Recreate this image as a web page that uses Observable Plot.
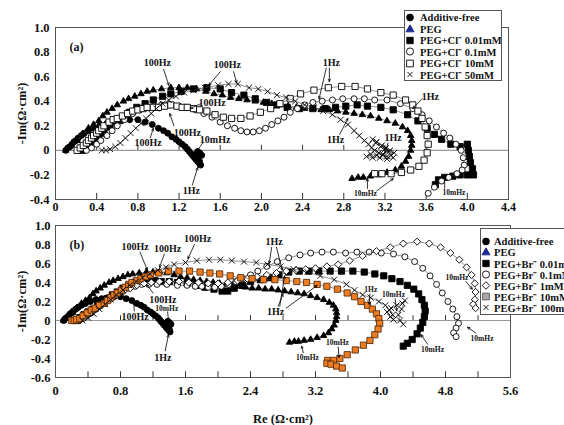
<!DOCTYPE html>
<html><head><meta charset="utf-8">
<script src="https://cdn.jsdelivr.net/npm/d3@7"></script>
<script src="https://cdn.jsdelivr.net/npm/@observablehq/plot@0.6"></script>
<style>
html,body{margin:0;padding:0;background:#fff;overflow:hidden;}
#wrap{position:relative;width:564px;height:425px;overflow:hidden;font-family:'Liberation Serif','Times New Roman',serif;font-weight:bold;color:#111;}
#pa{position:absolute;left:0;top:0;}
#pb{position:absolute;left:0;top:214px;}
.legend{position:absolute;background:#fff;border:1px solid #555;font-size:10.5px;white-space:nowrap;box-sizing:border-box;overflow:hidden;}
.row{display:flex;align-items:center;}
.row svg{flex:none;}
</style>
</head><body>
<div id="wrap"><div id="pa"></div><div id="pb"></div><div id="la" class="legend"></div><div id="lb" class="legend"></div></div>
<script>
// ---------- shared series (Re, -Im) ----------
const additiveFree = [[0.10,0.00],[0.12,0.02],[0.14,0.03],[0.16,0.05],[0.18,0.07],[0.20,0.08],[0.22,0.10],[0.25,0.12],[0.28,0.14],[0.32,0.16],[0.37,0.18],[0.43,0.20],[0.50,0.22],[0.57,0.23],[0.64,0.24],[0.72,0.25],[0.80,0.25],[0.87,0.23],[0.94,0.21],[1.00,0.18],[1.05,0.16],[1.09,0.14],[1.13,0.11],[1.17,0.09],[1.20,0.07],[1.23,0.05],[1.26,0.03],[1.28,0.01],[1.30,-0.01],[1.32,-0.03],[1.34,-0.05],[1.36,-0.07],[1.38,-0.09],[1.40,-0.11],[1.41,-0.12],[1.40,-0.09],[1.38,-0.06],[1.37,-0.03],[1.38,-0.01],[1.40,-0.02],[1.42,-0.04]];
const peg = [[0.10,0.00],[0.15,0.04],[0.21,0.08],[0.26,0.13],[0.32,0.18],[0.37,0.21],[0.42,0.24],[0.46,0.28],[0.50,0.31],[0.55,0.34],[0.60,0.37],[0.66,0.40],[0.71,0.42],[0.77,0.44],[0.83,0.46],[0.89,0.48],[0.95,0.49],[1.03,0.50],[1.12,0.51],[1.20,0.51],[1.28,0.51],[1.37,0.50],[1.46,0.48],[1.54,0.46],[1.62,0.45],[1.70,0.43],[1.78,0.42],[1.86,0.41],[1.94,0.40],[2.02,0.39],[2.10,0.38],[2.18,0.37],[2.26,0.36],[2.34,0.35],[2.42,0.34],[2.50,0.34],[2.58,0.33],[2.66,0.33],[2.74,0.32],[2.82,0.31],[2.90,0.30],[2.98,0.29],[3.06,0.28],[3.14,0.26],[3.22,0.24],[3.30,0.22],[3.37,0.19],[3.42,0.16],[3.45,0.12],[3.46,0.08],[3.46,0.04],[3.45,0.00],[3.43,-0.05],[3.40,-0.09],[3.36,-0.13],[3.30,-0.16],[3.22,-0.18],[3.14,-0.20],[3.06,-0.21],[2.99,-0.22],[2.94,-0.22],[2.88,-0.23]];

// ---------- panel (a): Cl- series ----------
const cl001 = [[0.26,0.00],[0.30,0.03],[0.34,0.06],[0.37,0.08],[0.42,0.11],[0.47,0.14],[0.53,0.19],[0.60,0.24],[0.66,0.27],[0.72,0.31],[0.79,0.35],[0.87,0.38],[0.95,0.41],[1.04,0.44],[1.12,0.46],[1.22,0.48],[1.34,0.50],[1.47,0.51],[1.60,0.50],[1.71,0.47],[1.83,0.45],[1.94,0.42],[2.05,0.39],[2.15,0.37],[2.25,0.35],[2.37,0.34],[2.50,0.34],[2.62,0.34],[2.72,0.35],[2.82,0.36],[2.93,0.37],[3.03,0.36],[3.16,0.35],[3.28,0.33],[3.42,0.29],[3.52,0.24],[3.61,0.18],[3.68,0.13],[3.75,0.09],[3.84,0.05],[3.93,0.03],[4.00,0.05],[4.01,0.00],[4.02,-0.05],[4.03,-0.10],[4.05,-0.15],[4.06,-0.20],[4.00,-0.20],[3.93,-0.20],[3.86,-0.21],[3.78,-0.22],[3.72,-0.24],[3.69,-0.28]];
const cl01 = [[0.30,0.00],[0.35,0.02],[0.40,0.05],[0.44,0.08],[0.50,0.12],[0.55,0.16],[0.60,0.20],[0.67,0.25],[0.75,0.30],[0.82,0.33],[0.89,0.35],[0.96,0.36],[1.03,0.37],[1.11,0.37],[1.20,0.36],[1.28,0.35],[1.36,0.33],[1.44,0.30],[1.52,0.27],[1.60,0.23],[1.67,0.20],[1.74,0.18],[1.80,0.16],[1.86,0.15],[1.92,0.15],[1.98,0.16],[2.04,0.18],[2.10,0.21],[2.16,0.24],[2.22,0.27],[2.28,0.31],[2.35,0.34],[2.42,0.37],[2.50,0.39],[2.59,0.40],[2.69,0.41],[2.79,0.42],[2.90,0.42],[3.00,0.42],[3.10,0.41],[3.22,0.41],[3.35,0.38],[3.47,0.34],[3.56,0.29],[3.63,0.24],[3.70,0.19],[3.77,0.14],[3.83,0.10],[3.89,0.05],[3.94,0.00],[3.96,-0.06],[3.97,-0.12],[3.95,-0.16],[3.90,-0.19],[3.82,-0.22],[3.75,-0.25],[3.68,-0.30],[3.62,-0.35]];
const cl10 = [[0.21,0.00],[0.24,0.02],[0.27,0.04],[0.30,0.06],[0.32,0.08],[0.35,0.10],[0.37,0.12],[0.40,0.14],[0.42,0.16],[0.45,0.18],[0.47,0.20],[0.52,0.23],[0.56,0.25],[0.60,0.26],[0.65,0.28],[0.70,0.30],[0.75,0.32],[0.80,0.33],[0.85,0.34],[0.89,0.35],[0.95,0.35],[1.00,0.35],[1.06,0.36],[1.12,0.37],[1.18,0.36],[1.23,0.35],[1.28,0.35],[1.34,0.34],[1.40,0.33],[1.47,0.32],[1.55,0.29],[1.63,0.27],[1.71,0.26],[1.80,0.26],[1.89,0.28],[1.99,0.31],[2.09,0.34],[2.18,0.38],[2.28,0.42],[2.38,0.46],[2.51,0.49],[2.65,0.51],[2.78,0.52],[2.91,0.52],[3.03,0.50],[3.16,0.47],[3.28,0.45],[3.40,0.41],[3.47,0.37],[3.52,0.32],[3.56,0.26],[3.59,0.19],[3.61,0.12],[3.62,0.05],[3.61,-0.02],[3.58,-0.08],[3.53,-0.13],[3.45,-0.16],[3.36,-0.18],[3.26,-0.19],[3.17,-0.19],[3.10,-0.19]];
const cl50 = [[0.45,0.00],[0.49,0.00],[0.53,0.01],[0.58,0.03],[0.63,0.06],[0.68,0.10],[0.73,0.14],[0.78,0.18],[0.83,0.22],[0.88,0.26],[0.93,0.30],[0.98,0.34],[1.04,0.38],[1.10,0.41],[1.17,0.44],[1.25,0.47],[1.34,0.49],[1.45,0.51],[1.58,0.53],[1.68,0.54],[1.77,0.54],[1.88,0.51],[1.97,0.50],[2.06,0.48],[2.15,0.45],[2.24,0.43],[2.33,0.40],[2.42,0.37],[2.51,0.35],[2.60,0.32],[2.69,0.29],[2.77,0.25],[2.84,0.21],[2.90,0.16],[2.95,0.12],[3.00,0.08],[3.04,0.05],[3.07,0.02],[3.10,0.00],[3.14,-0.02],[3.18,-0.04],[3.22,-0.05],[3.26,-0.04],[3.29,-0.02],[3.24,-0.01],[3.20,0.01],[3.16,0.03],[3.11,0.06],[3.08,0.09],[3.12,0.07],[3.17,0.04],[3.21,0.02],[3.25,0.00],[3.18,-0.03],[3.12,-0.04],[3.06,-0.03],[3.02,-0.05],[3.08,-0.06],[3.15,-0.06],[3.22,-0.07],[3.28,-0.06]];

// ---------- panel (b): Br- series ----------
const br001 = [[0.25,0.00],[0.30,0.03],[0.35,0.06],[0.40,0.09],[0.46,0.12],[0.52,0.16],[0.58,0.19],[0.64,0.23],[0.70,0.27],[0.76,0.30],[0.83,0.34],[0.90,0.37],[0.97,0.40],[1.05,0.42],[1.13,0.43],[1.22,0.42],[1.30,0.41],[1.40,0.41],[1.50,0.40],[1.62,0.39],[1.73,0.37],[1.84,0.35],[1.95,0.33],[2.05,0.31],[2.12,0.31],[2.20,0.34],[2.30,0.37],[2.40,0.41],[2.52,0.43],[2.63,0.45],[2.75,0.48],[2.87,0.51],[3.00,0.52],[3.12,0.52],[3.24,0.52],[3.38,0.52],[3.52,0.52],[3.66,0.52],[3.80,0.51],[3.93,0.49],[4.04,0.47],[4.14,0.44],[4.24,0.41],[4.33,0.37],[4.41,0.33],[4.47,0.28],[4.51,0.22],[4.54,0.16],[4.55,0.10],[4.54,0.04],[4.52,-0.02],[4.49,-0.08],[4.45,-0.14],[4.39,-0.20],[4.33,-0.24],[4.28,-0.27]];
const br01 = [[0.28,0.00],[0.33,0.02],[0.38,0.05],[0.44,0.08],[0.50,0.12],[0.56,0.16],[0.62,0.20],[0.69,0.24],[0.76,0.28],[0.83,0.31],[0.90,0.34],[0.98,0.36],[1.06,0.38],[1.15,0.38],[1.25,0.38],[1.37,0.38],[1.50,0.37],[1.62,0.37],[1.72,0.36],[1.80,0.36],[1.88,0.35],[1.96,0.35],[2.04,0.36],[2.13,0.38],[2.22,0.41],[2.31,0.44],[2.40,0.48],[2.49,0.52],[2.60,0.57],[2.73,0.62],[2.87,0.66],[3.01,0.69],[3.14,0.71],[3.28,0.72],[3.42,0.72],[3.57,0.71],[3.71,0.72],[3.86,0.72],[4.01,0.71],[4.16,0.70],[4.30,0.67],[4.42,0.62],[4.52,0.55],[4.61,0.47],[4.69,0.38],[4.76,0.29],[4.83,0.20],[4.89,0.12],[4.94,0.04],[4.96,-0.03],[4.93,-0.08],[4.90,-0.13],[4.93,-0.17]];
const br1 = [[0.30,0.00],[0.36,0.03],[0.42,0.07],[0.48,0.11],[0.55,0.15],[0.62,0.19],[0.69,0.23],[0.76,0.27],[0.84,0.31],[0.92,0.34],[1.00,0.37],[1.09,0.39],[1.18,0.40],[1.28,0.41],[1.40,0.41],[1.52,0.41],[1.64,0.40],[1.76,0.40],[1.88,0.39],[2.00,0.39],[2.12,0.40],[2.24,0.42],[2.36,0.44],[2.48,0.46],[2.60,0.48],[2.72,0.50],[2.84,0.52],[2.96,0.53],[3.08,0.54],[3.20,0.55],[3.34,0.57],[3.48,0.59],[3.62,0.63],[3.78,0.68],[3.95,0.73],[4.12,0.77],[4.28,0.81],[4.45,0.83],[4.60,0.81],[4.74,0.77],[4.86,0.71],[4.97,0.64],[5.06,0.56],[5.12,0.48],[5.16,0.39],[5.17,0.30],[5.16,0.22],[5.14,0.17],[5.17,0.13]];
const br10 = [[0.20,0.00],[0.23,0.00],[0.26,0.01],[0.30,0.02],[0.34,0.05],[0.39,0.08],[0.44,0.11],[0.49,0.13],[0.54,0.16],[0.60,0.18],[0.64,0.21],[0.68,0.24],[0.72,0.27],[0.76,0.29],[0.81,0.32],[0.86,0.35],[0.90,0.38],[0.94,0.40],[1.00,0.42],[1.05,0.44],[1.11,0.46],[1.17,0.48],[1.27,0.50],[1.39,0.52],[1.52,0.52],[1.65,0.52],[1.78,0.51],[1.90,0.50],[2.02,0.49],[2.15,0.47],[2.28,0.45],[2.42,0.44],[2.56,0.43],[2.70,0.43],[2.84,0.42],[2.97,0.41],[3.09,0.40],[3.22,0.38],[3.34,0.36],[3.47,0.33],[3.59,0.29],[3.68,0.25],[3.76,0.20],[3.84,0.16],[3.90,0.12],[3.95,0.07],[3.98,0.02],[3.99,-0.03],[3.97,-0.09],[3.93,-0.15],[3.87,-0.21],[3.79,-0.26],[3.69,-0.31],[3.59,-0.36],[3.50,-0.40],[3.42,-0.42],[3.35,-0.42],[3.34,-0.45],[3.39,-0.46],[3.46,-0.48],[3.53,-0.50]];
const br100 = [[0.33,0.00],[0.40,0.03],[0.47,0.07],[0.54,0.12],[0.61,0.17],[0.68,0.22],[0.75,0.27],[0.83,0.32],[0.91,0.37],[0.99,0.41],[1.07,0.45],[1.16,0.49],[1.26,0.53],[1.36,0.56],[1.46,0.59],[1.60,0.61],[1.74,0.63],[1.89,0.64],[2.03,0.64],[2.17,0.63],[2.32,0.62],[2.47,0.61],[2.61,0.59],[2.77,0.57],[2.93,0.54],[3.10,0.51],[3.26,0.47],[3.43,0.43],[3.58,0.38],[3.68,0.32],[3.78,0.27],[3.88,0.24],[3.98,0.20],[4.06,0.16],[4.11,0.11],[4.15,0.06],[4.16,0.01],[4.12,0.04],[4.08,0.09],[4.13,0.13],[4.20,0.16],[4.27,0.18],[4.30,0.21],[4.26,0.12],[4.22,0.06],[4.24,0.00],[4.28,-0.04]];

// ---------- axes ----------
const xTicksA = [0,0.4,0.8,1.2,1.6,2.0,2.4,2.8,3.2,3.6,4.0,4.4];
const xLabelsA = ["0","0.4","0.8","1.2","1.6","2.0","2.4","2.8","3.2","3.6","4.0","4.4"];
const yTicksA = [-0.4,-0.2,0,0.2,0.4,0.6,0.8,1.0];
const yLabelsA = ["-0.4","-0.2","0","0.2","0.4","0.6","0.8","1.0"];
const minorA = [0.4,0.8,1.2,1.6,2.0,2.4,2.8,3.2,3.6,4.0];
const xTicksB = [0,0.8,1.6,2.4,3.2,4.0,4.8,5.6];
const xLabelsB = ["0","0.8","1.6","2.4","3.2","4.0","4.8","5.6"];
const yTicksB = [-0.6,-0.4,-0.2,0,0.2,0.4,0.6,0.8,1.0];
const yLabelsB = ["-0.6","-0.4","-0.2","0","0.2","0.4","0.6","0.8","1.0"];
const minorB = [0.4,0.8,1.2,1.6,2.0,2.4,2.8,3.2,3.6,4.0,4.4,4.8,5.2];

// ---------- annotations [text, Re, -Im] and arrows [x1,y1,x2,y2] ----------
const labelsA = [["100Hz",0.99,0.71],["100Hz",1.67,0.70],["100Hz",1.52,0.39],["100Hz",1.28,0.14],["100Hz",0.90,0.06],["10mHz",1.55,0.09],["1Hz",1.32,-0.33],["1Hz",2.68,0.71],["1Hz",3.64,0.44],["1Hz",2.72,0.09],["1Hz",3.28,0.10]];
const smallLabelsA = [["10mHz",3.01,-0.35],["10mHz",3.87,-0.34]];
const arrowsA = [[1.05,0.66,1.10,0.53],[1.60,0.64,1.49,0.53],[1.73,0.64,1.76,0.55],[1.41,0.38,1.31,0.34],[1.15,0.20,1.11,0.30],[0.92,0.10,0.95,0.18],[1.43,0.06,1.37,-0.01],[1.33,-0.28,1.38,-0.14],[2.63,0.67,2.56,0.42],[2.66,0.67,2.66,0.56],[3.56,0.42,3.47,0.34],[2.76,0.13,2.84,0.26],[3.23,0.06,3.20,-0.02],[3.03,-0.31,3.03,-0.23],[3.12,-0.33,3.28,-0.23],[3.78,-0.31,3.78,-0.21]];
const labelsB = [["100Hz",0.98,0.78],["100Hz",1.38,0.75],["100Hz",1.75,0.86],["1Hz",2.69,0.83],["100Hz",1.32,0.22],["100Hz",0.98,0.04],["1Hz",1.32,-0.39],["1Hz",2.71,0.09]];
const smallLabelsB = [["10mHz",1.37,0.13],["10mHz",3.47,-0.23],["10mHz",3.10,-0.39],["1Hz",3.88,0.33],["10mHz",4.16,0.27],["10mHz",4.94,0.45],["10mHz",4.64,-0.31],["10mHz",5.25,-0.19]];
const arrowsB = [[1.04,0.72,1.13,0.53],[1.34,0.70,1.28,0.56],[1.71,0.80,1.63,0.65],[2.66,0.77,2.63,0.60],[2.72,0.77,2.79,0.53],[1.20,0.29,1.12,0.38],[1.38,0.09,1.39,0.00],[0.97,0.10,0.96,0.20],[1.35,-0.32,1.39,-0.15],[2.74,0.15,2.80,0.28],[2.76,0.15,2.82,0.47],[2.84,0.13,3.22,0.37],[3.48,-0.28,3.49,-0.39],[3.05,-0.34,3.03,-0.27],[3.87,0.28,3.86,0.17],[4.18,0.23,4.20,0.10],[5.05,0.41,5.13,0.33],[4.58,-0.25,4.50,-0.15],[5.17,-0.13,5.07,-0.07]];

// ---------- legends ----------
const legendA = ["Additive-free","PEG","PEG+Cl⁻ 0.01mM","PEG+Cl⁻ 0.1mM","PEG+Cl⁻ 10mM","PEG+Cl⁻ 50mM"];
const legendB = ["Additive-free","PEG","PEG+Br⁻ 0.01mM","PEG+Br⁻ 0.1mM","PEG+Br⁻ 1mM","PEG+Br⁻ 10mM","PEG+Br⁻ 100mM"];

// ---------- styles ----------
const X = d => d[0], Y = d => d[1];
const FONT = "'Liberation Serif','Times New Roman',serif";
const sty = {
  free:  {symbol:"circle",   fill:"#000", stroke:"#000", r:3.0},
  peg:   {symbol:"triangle", fill:"#000", stroke:"#000", r:2.4},
  fsq:   {symbol:"square",   fill:"#000", stroke:"#000", r:3.5},
  ocir:  {symbol:"circle",   fill:"#fff", stroke:"#000", r:3.0},
  osq:   {symbol:"square",   fill:"#fff", stroke:"#000", r:3.5},
  times: {symbol:"times",    fill:"none", stroke:"#000", r:2.8},
  dia:   {symbol:"diamond2", fill:"#fff", stroke:"#000", r:3.2},
  orng:  {symbol:"square",   fill:"#ee7d22", stroke:"#5a3010", r:3.5}
};

function seriesMarks(data, s) {
  return [
    Plot.line(data, {x:X, y:Y, stroke:"#444", strokeWidth:0.6}),
    Plot.dot(data, {x:X, y:Y, symbol:s.symbol, fill:s.fill, stroke:s.stroke, r:s.r, strokeWidth:0.9})
  ];
}
function annot(labels, small, arrows) {
  return [
    Plot.arrow(arrows, {x1:d=>d[0], y1:d=>d[1], x2:d=>d[2], y2:d=>d[3], stroke:"#000", strokeWidth:0.8, headLength:5, headAngle:50}),
    Plot.text(labels, {x:d=>d[1], y:d=>d[2], text:d=>d[0], fontSize:10, fontWeight:"bold", fontFamily:FONT}),
    Plot.text(small, {x:d=>d[1], y:d=>d[2], text:d=>d[0], fontSize:7.5, fontWeight:"bold", fontFamily:FONT})
  ];
}

const pa = Plot.plot({
  width:564, height:215, marginLeft:55, marginRight:56, marginTop:27, marginBottom:16,
  style:{fontFamily:FONT, fontWeight:"bold", fontSize:"12px", background:"transparent", color:"#111"},
  x:{domain:[0,4.4]}, y:{domain:[-0.4,1.0]},
  marks:[
    Plot.ruleY([0], {stroke:"#999", strokeWidth:1.2}),
    Plot.ruleX(minorA, {x:d=>d, y1:0, y2:0.04, stroke:"#333"}),
    Plot.ruleX(minorA, {x:d=>d, y1:-0.4, y2:-0.35, stroke:"#333"}),
    ...seriesMarks(additiveFree, sty.free),
    ...seriesMarks(peg, sty.peg),
    ...seriesMarks(cl001, sty.fsq),
    ...seriesMarks(cl01, sty.ocir),
    ...seriesMarks(cl10, sty.osq),
    ...seriesMarks(cl50, sty.times),
    ...annot(labelsA, smallLabelsA, arrowsA),
    Plot.text(["(a)"], {frameAnchor:"top-left", dx:14, dy:15, fontSize:12, fontWeight:"bold"}),
    Plot.frame({stroke:"#555"}),
    Plot.axisX({ticks:xTicksA, tickSize:0, tickPadding:3, tickFormat:d=>xLabelsA[xTicksA.indexOf(d)], fontSize:12, label:null}),
    Plot.axisY({ticks:yTicksA, tickSize:0, tickPadding:6, tickFormat:d=>yLabelsA[yTicksA.indexOf(d)], fontSize:12.5, label:"-Im(Ω·cm²)", labelAnchor:"center", labelOffset:38, labelArrow:false})
  ]
});
document.getElementById("pa").appendChild(pa);

const pb = Plot.plot({
  width:564, height:211, marginLeft:55, marginRight:54, marginTop:11, marginBottom:48,
  style:{fontFamily:FONT, fontWeight:"bold", fontSize:"12px", background:"transparent", color:"#111"},
  x:{domain:[0,5.6]}, y:{domain:[-0.6,1.0]},
  marks:[
    Plot.ruleY([0], {stroke:"#999", strokeWidth:1.2}),
    Plot.ruleX(minorB, {x:d=>d, y1:0, y2:0.05, stroke:"#333"}),
    Plot.ruleX(minorB, {x:d=>d, y1:-0.6, y2:-0.54, stroke:"#333"}),
    ...seriesMarks(additiveFree, sty.free),
    ...seriesMarks(peg, sty.peg),
    ...seriesMarks(br001, sty.fsq),
    ...seriesMarks(br01, sty.ocir),
    ...seriesMarks(br1, sty.dia),
    ...seriesMarks(br10, sty.orng),
    ...seriesMarks(br100, sty.times),
    ...annot(labelsB, smallLabelsB, arrowsB),
    Plot.text(["(b)"], {frameAnchor:"top-left", dx:14, dy:15, fontSize:12, fontWeight:"bold"}),
    Plot.frame({stroke:"#555"}),
    Plot.axisX({ticks:xTicksB, tickSize:0, tickPadding:9, tickFormat:d=>xLabelsB[xTicksB.indexOf(d)], fontSize:12.5, label:"Re (Ω·cm²)", labelAnchor:"center", labelOffset:45, labelArrow:false}),
    Plot.axisY({ticks:yTicksB, tickSize:0, tickPadding:5, tickFormat:d=>yLabelsB[yTicksB.indexOf(d)], fontSize:12.5, label:"-Im(Ω·cm²)", labelAnchor:"center", labelOffset:38, labelArrow:false})
  ]
});
document.getElementById("pb").appendChild(pb);

// ---------- HTML legends ----------
function symSvg(s, w) {
  const size = Math.PI * s.r * s.r;
  const symMap = {circle:d3.symbolCircle, triangle:d3.symbolTriangle, square:d3.symbolSquare, times:d3.symbolTimes, diamond2:d3.symbolDiamond2};
  const p = d3.symbol(symMap[s.symbol], size)();
  return `<svg width="${w}" height="11" viewBox="${-w/2} -5.5 ${w} 11"><path d="${p}" fill="${s.fill}" stroke="${s.stroke}" stroke-width="0.9"/></svg>`;
}
function buildLegend(el, items, styles, opt) {
  el.style.left = opt.left + "px"; el.style.top = opt.top + "px";
  el.style.width = opt.width + "px"; el.style.height = opt.height + "px";
  el.style.paddingTop = opt.pad + "px";
  el.innerHTML = items.map((t,i) => `<div class="row" style="height:${opt.lh}px">${symSvg(styles[i], opt.sw)}<span style="margin-left:${opt.gap}px">${t}</span></div>`).join("");
}
const legSymA = [{...sty.free,r:3.4},{...sty.peg,fill:"#1c2a8c",stroke:"#1c2a8c",r:3.0},{...sty.fsq,r:3.6},{...sty.ocir,r:3.6},{...sty.osq,r:3.8},{...sty.times,r:2.4}];
const legSymB = [{...sty.free,r:3.4},{...sty.peg,fill:"#1c2a8c",stroke:"#1c2a8c",r:3.0},{...sty.fsq,r:3.6},{...sty.ocir,r:3.6},{...sty.dia,r:3.4},{symbol:"square",fill:"#aaa",stroke:"#555",r:3.8},{...sty.times,r:2.4}];
buildLegend(document.getElementById("la"), legendA, legSymA, {left:404, top:10, width:98, height:71, pad:1, lh:11.4, sw:10, gap:5});
buildLegend(document.getElementById("lb"), legendB, legSymB, {left:480, top:228, width:110, height:87, pad:7, lh:11, sw:10, gap:3});
</script>
</body></html>
